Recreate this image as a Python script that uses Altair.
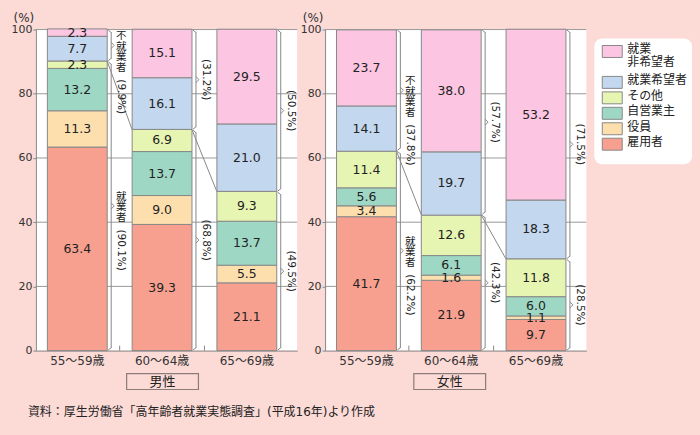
import altair as alt
import pandas as pd

# ---------------- data ----------------
ages = ["55〜59歳", "60〜64歳", "65〜69歳"]
categories = ["雇用者", "役員", "自営業主", "その他", "就業希望者", "就業非希望者"]
legend_text = ["雇用者", "役員", "自営業主", "その他", "就業希望者", "就業\n非希望者"]
colors = ["#f8a090", "#fddfae", "#9ed8c4", "#e7f5b2", "#c3d7ee", "#fcc6e2"]

male_5559 = [63.4, 11.3, 13.2, 2.3, 7.7, 2.3]
male_6064 = [39.3, 9.0, 13.7, 6.9, 16.1, 15.1]
male_6569 = [21.1, 5.5, 13.7, 9.3, 21.0, 29.5]
female_5559 = [41.7, 3.4, 5.6, 11.4, 14.1, 23.7]
female_6064 = [21.9, 1.6, 6.1, 12.6, 19.7, 38.0]
female_6569 = [9.7, 1.1, 6.0, 11.8, 18.3, 53.2]

male_employed = [90.1, 68.8, 49.5]
male_nonemployed = [9.9, 31.2, 50.5]
female_employed = [62.2, 42.3, 28.5]
female_nonemployed = [37.8, 57.7, 71.5]

group_names = ["就業者", "不就業者"]
y_ticks = [0, 20, 40, 60, 80, 100]
panel_titles = ["男性", "女性"]
source_note = "資料：厚生労働省「高年齢者就業実態調査」(平成16年)より作成"
unit_label = "(%)"

# ---------------- style ----------------
W, H = 262, 322
BG = "#fcdad6"
GREY = "#888888"
TXT = "#222222"
NUM = "DejaVu Sans"
JP = "DejaVu Sans, Noto Sans CJK JP"
CH = 10.5  # vertical character step
TOP = -14  # start of vertical group name relative to brace middle

xscale = alt.Scale(domain=ages, paddingInner=25 / 85, paddingOuter=0.188, align=0.36)
yscale = alt.Scale(domain=[0, 100], nice=False)
cscale = alt.Scale(domain=categories, range=colors)

one = pd.DataFrame({"k": [0]})


def panel(title, series, employed, nonemployed, box_cx, with_bg):
    rows = []
    for a, vals in zip(ages, series):
        for i, (c, v) in enumerate(zip(categories, vals)):
            rows.append(dict(age=a, cat=c, idx=i, value=v))
    seg = pd.DataFrame(rows)

    br = []
    for j, (a, e, n) in enumerate(zip(ages, employed, nonemployed)):
        br.append(dict(age=a, kind=group_names[0], lo=0.0, hi=e, pct=f"({e}%)",
                       lead=(j == 0), name="\n".join(group_names[0])))
        br.append(dict(age=a, kind=group_names[1], lo=e, hi=100.0, pct=f"({n}%)",
                       lead=(j == 0), name="\n".join(group_names[1])))
    braces = pd.DataFrame(br)
    braces["mid"] = (braces["lo"] + braces["hi"]) / 2

    conn = pd.DataFrame(dict(age=ages[:-1], age2=ages[1:], e=employed[:-1], e2=employed[1:]))

    layers = []
    if with_bg:
        layers.append(alt.Chart(one).mark_rect(fill=BG).encode(
            x=alt.value(-35), x2=alt.value(665), y=alt.value(-28), y2=alt.value(407)))
    layers.append(alt.Chart(one).mark_rect(fill="white").encode(
        x=alt.value(0), x2=alt.value(W), y=alt.value(0), y2=alt.value(H)))
    layers.append(alt.Chart(pd.DataFrame({"t": y_ticks[1:]})).mark_rule(
        color="#9a9a9a", strokeWidth=1).encode(
        y=alt.Y("t:Q", scale=yscale), x=alt.value(0), x2=alt.value(W)))

    bars = alt.Chart(seg).mark_bar(stroke=GREY, strokeWidth=1).encode(
        x=alt.X("age:N", scale=xscale, title=None,
                axis=alt.Axis(labelAngle=0, ticks=False, domainColor=GREY, labelColor="#333",
                              labelFont=JP, labelFontSize=12, labelPadding=5, zindex=1)),
        y=alt.Y("value:Q", stack="zero", scale=yscale, title=None,
                axis=alt.Axis(values=y_ticks, tickSize=3, tickColor=GREY, domainColor=GREY,
                              labelColor="#333", labelFont=NUM, labelFontSize=11,
                              labelPadding=1, grid=False, zindex=1)),
        color=alt.Color("cat:N", scale=cscale, legend=None),
        order=alt.Order("idx:Q", sort="ascending"),
    )
    layers.append(bars)

    labels = alt.Chart(seg).transform_stack(
        stack="value", groupby=["age"], sort=[alt.SortField("idx", order="ascending")],
        as_=["v0", "v1"]).transform_calculate(
        mid="(datum.v0 + datum.v1) / 2", lab="format(datum.value, '.1f')").mark_text(
        font=NUM, fontSize=12.5, color=TXT).encode(
        x=alt.X("age:N"), y=alt.Y("mid:Q"), text="lab:N")
    layers.append(labels)

    # band boundary ticks on bottom axis
    layers.append(alt.Chart(pd.DataFrame({"age": ages[:-1]})).mark_rule(
        color=GREY, xOffset=42.5, y2Offset=-5).encode(
        x="age:N", y=alt.datum(0), y2=alt.datum(0)))

    # braces
    layers.append(alt.Chart(braces).mark_rule(color=GREY, xOffset=34, yOffset=-2.5, y2Offset=2.5).encode(
        x="age:N", y="lo:Q", y2="hi"))
    layers.append(alt.Chart(braces).mark_rule(color=GREY, xOffset=34, x2Offset=37, yOffset=-3).encode(
        x="age:N", x2="age", y="mid:Q", y2="mid"))
    layers.append(alt.Chart(braces).mark_rule(color=GREY, xOffset=34, x2Offset=37, yOffset=3).encode(
        x="age:N", x2="age", y="mid:Q", y2="mid"))
    layers.append(alt.Chart(braces).mark_rule(color=GREY, xOffset=34, x2Offset=31, yOffset=3, y2Offset=0.5).encode(
        x="age:N", x2="age", y="hi:Q", y2="hi"))
    layers.append(alt.Chart(braces).mark_rule(color=GREY, xOffset=34, x2Offset=31, yOffset=-3, y2Offset=-0.5).encode(
        x="age:N", x2="age", y="lo:Q", y2="lo"))

    # connectors between bars
    layers.append(alt.Chart(conn).mark_rule(color=GREY, xOffset=30, x2Offset=-30).encode(
        x="age:N", x2="age2", y="e:Q", y2="e2"))

    # vertical group names and percentages
    for kind, nchar in ((group_names[1], len(group_names[1])), (group_names[0], len(group_names[0]))):
        layers.append(alt.Chart(braces).transform_filter(
            alt.datum.lead & (alt.datum.kind == kind)).mark_text(
            font="Noto Sans CJK JP", fontSize=10.5, lineHeight=CH, lineBreak="\n", baseline="top",
            xOffset=44, yOffset=TOP, color=TXT).encode(
            x="age:N", y="mid:Q", text="name:N"))
        layers.append(alt.Chart(braces).transform_filter(
            alt.datum.lead & (alt.datum.kind == kind)).mark_text(
            font=NUM, fontSize=10.5, angle=90, align="left", baseline="middle",
            xOffset=44, yOffset=TOP + nchar * CH + 6, color=TXT).encode(
            x="age:N", y="mid:Q", text="pct:N"))
    layers.append(alt.Chart(braces).transform_filter(~alt.datum.lead).mark_text(
        font=NUM, fontSize=10.5, angle=90, align="center", baseline="middle",
        xOffset=44, color=TXT).encode(
        x="age:N", y="mid:Q", text="pct:N"))

    # unit label, panel title box
    layers.append(alt.Chart(one).mark_text(text=unit_label, font=NUM, fontSize=12, color="#333").encode(
        x=alt.value(-12), y=alt.value(-12)))
    layers.append(alt.Chart(one).mark_rect(fill=BG, stroke="#8c7c7a", strokeWidth=1.2).encode(
        x=alt.value(box_cx - 36), x2=alt.value(box_cx + 36), y=alt.value(345), y2=alt.value(361)))
    layers.append(alt.Chart(one).mark_text(text=title, font=JP, fontSize=13, color=TXT).encode(
        x=alt.value(box_cx), y=alt.value(353.5)))
    if with_bg:
        layers.append(alt.Chart(one).mark_text(text=source_note, font=JP, fontSize=12, align="left",
                                               color=TXT).encode(
            x=alt.value(-8), y=alt.value(384)))

    return alt.layer(*layers).properties(width=W, height=H)


male = panel(panel_titles[0], [male_5559, male_6064, male_6569], male_employed, male_nonemployed, 127, True)
female = panel(panel_titles[1], [female_5559, female_6064, female_6569], female_employed, female_nonemployed, 125, False)

# ---------------- legend panel ----------------
leg = pd.DataFrame({"cat": categories[::-1], "label": legend_text[::-1]})
leg["nlines"] = leg["label"].str.count("\n") + 1
leg["line"] = leg["nlines"].cumsum() - leg["nlines"]
lscale = alt.Scale(domain=[0, 6], range=[22, 115])

legend_box = alt.Chart(one).mark_rect(fill="white", cornerRadius=8).encode(
    x=alt.value(-20), x2=alt.value(78), y=alt.value(9), y2=alt.value(135))
swatch = alt.Chart(leg).mark_rect(stroke=GREY, strokeWidth=1, yOffset=-6, y2Offset=6).encode(
    x=alt.value(-12), x2=alt.value(8),
    y=alt.Y("line:Q", scale=lscale, axis=None), y2="line",
    color=alt.Color("cat:N", scale=cscale, legend=None))
ltext = alt.Chart(leg).mark_text(align="left", baseline="top", lineBreak="\n", lineHeight=13,
                                 font=JP, fontSize=12, yOffset=-7, color=TXT).encode(
    x=alt.value(13), y=alt.Y("line:Q", scale=lscale, axis=None), text="label:N")
legend_panel = alt.layer(legend_box, swatch, ltext).properties(width=78, height=135)

chart = alt.hconcat(male, female, legend_panel, spacing=28, bounds="flush").properties(
    padding=0, background=BG).configure_view(stroke="transparent")

chart.save("out.html", embed_options={"renderer": "svg", "actions": False})
